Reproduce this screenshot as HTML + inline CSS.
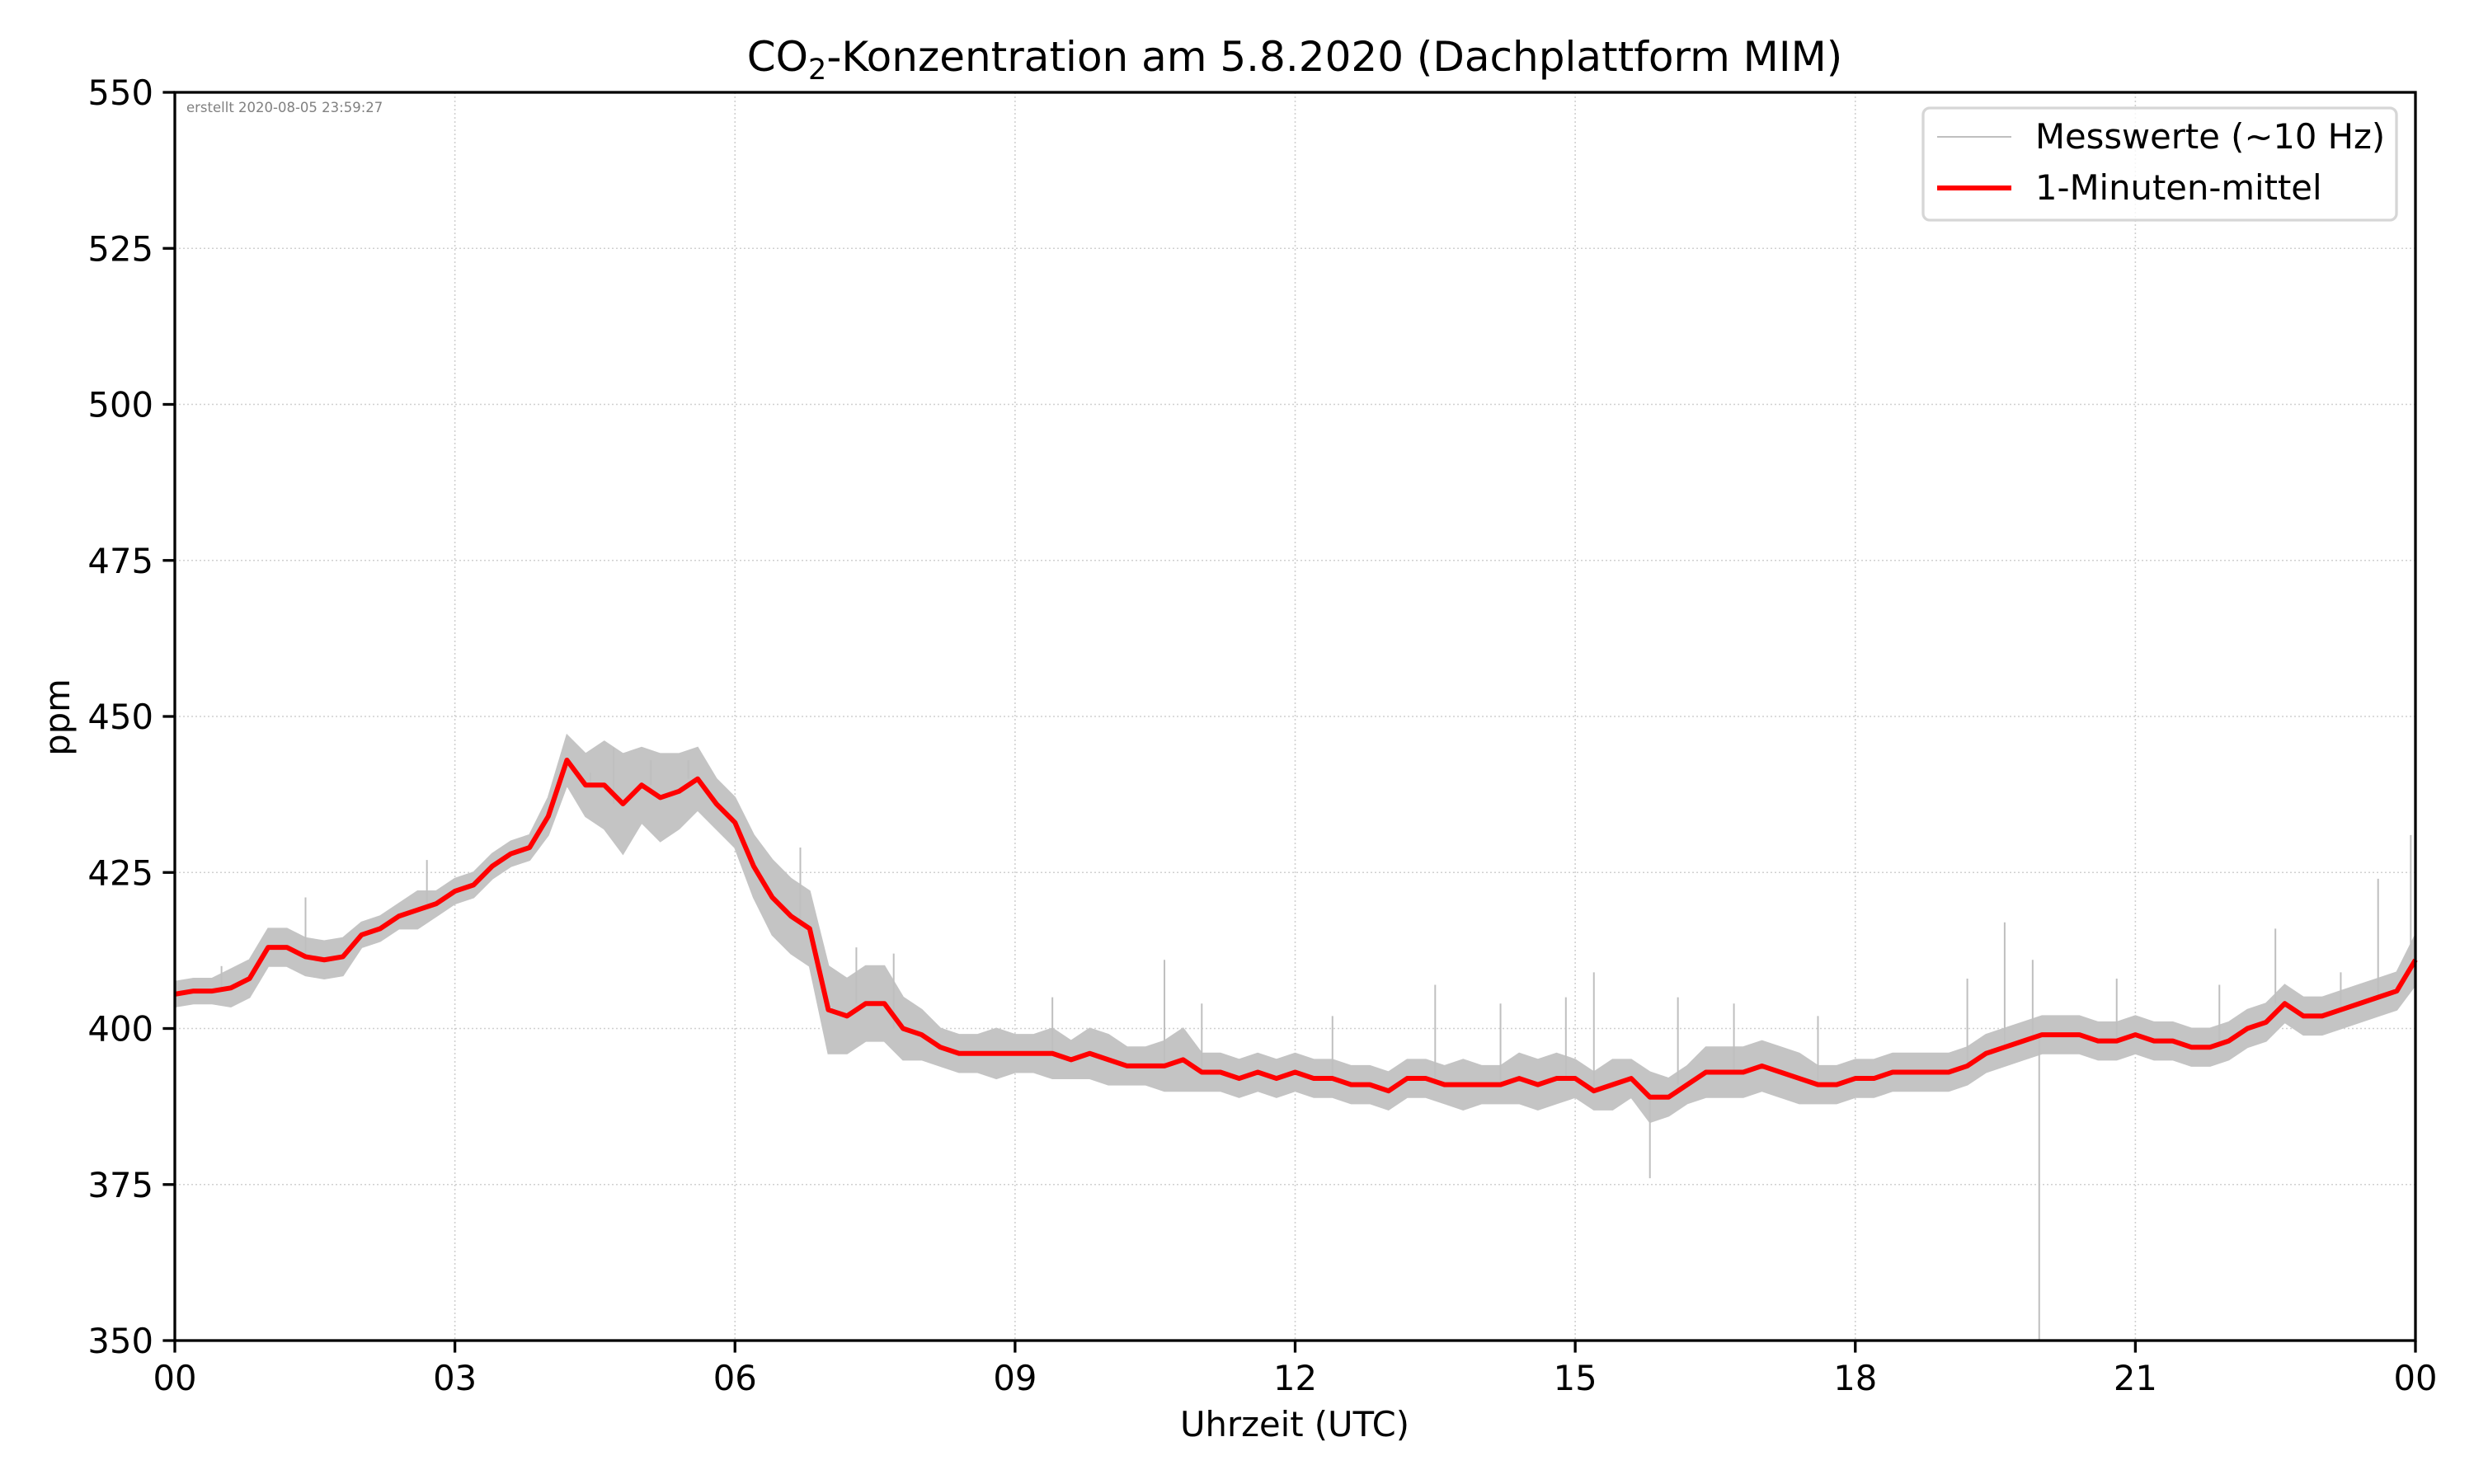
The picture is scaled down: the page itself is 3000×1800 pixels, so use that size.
<!DOCTYPE html>
<html><head><meta charset="utf-8"><style>
html,body{margin:0;padding:0;background:#fff;}
svg{display:block;font-family:"DejaVu Sans","Liberation Sans",sans-serif;}
</style></head><body>
<svg id="chart" width="3000" height="1800" viewBox="0 0 3000 1800" xmlns="http://www.w3.org/2000/svg">
<rect width="3000" height="1800" fill="#fff"/>
<g id="grid"></g>
<g id="series"></g>
<text x="1570" y="86" font-size="50" text-anchor="middle">CO<tspan font-size="35" dy="10">2</tspan><tspan dy="-10">-Konzentration am 5.8.2020 (Dachplattform MIM)</tspan></text>
<text x="226" y="136" font-size="16.5" fill="#808080">erstellt 2020-08-05 23:59:27</text>
<rect x="212" y="112" width="2717" height="1514" fill="none" stroke="#000" stroke-width="3.3"/>
<g id="axes"></g>
<text x="1570" y="1742" font-size="41.7" text-anchor="middle">Uhrzeit (UTC)</text>
<text transform="translate(84,870) rotate(-90)" font-size="41.7" text-anchor="middle">ppm</text>
<g>
<rect x="2332" y="131" width="574" height="136" rx="8" fill="#fff" fill-opacity="0.8" stroke="#d6d6d6" stroke-width="3.3"/>
<line x1="2349" y1="166" x2="2439" y2="166" stroke="#bfbfbf" stroke-width="2"/>
<text x="2468" y="180" font-size="41.7">Messwerte (~10 Hz)</text>
<line x1="2349" y1="228" x2="2439" y2="228" stroke="#ff0000" stroke-width="6"/>
<text x="2468" y="242" font-size="41.7">1-Minuten-mittel</text>
</g>
</svg>
<script>
const hourStep=0.2;
const meanPpm=[
405.5,406,406,406.5,408,413,413,411.5,411,411.5,
415,416,418,419,420,422,423,426,428,429,
434,443,439,439,436,439,437,438,440,436,
433,426,421,418,416,403,402,404,404,400,
399,397,396,396,396,396,396,396,395,396,
395,394,394,394,395,393,393,392,393,392,
393,392,392,391,391,390,392,392,391,391,
391,391,392,391,392,392,390,391,392,389,
389,391,393,393,393,394,393,392,391,391,
392,392,393,393,393,393,394,396,397,398,
399,399,399,398,398,399,398,398,397,397,
398,400,401,404,402,402,403,404,405,406,
411];
const spreadPpm=[
2,2,2,3,3,3,3,3,3,3,
2,2,2,3,2,2,2,2,2,2,
3,4,5,7,8,6,7,6,5,4,
4,5,6,6,6,7,6,6,6,5,
4,3,3,3,4,3,3,4,3,4,
4,3,3,4,5,3,3,3,3,3,
3,3,3,3,3,3,3,3,3,4,
3,3,4,4,4,3,3,4,3,4,
3,3,4,4,4,4,4,4,3,3,
3,3,3,3,3,3,3,3,3,3,
3,3,3,3,3,3,3,3,3,3,
3,3,3,3,3,3,3,3,3,3,
4];
const spikeHours=[0.5,1.4,2.7,4.45,4.7,5.1,5.5,6.7,7.3,7.7,9.4,10.6,11.0,12.4,13.5,14.2,14.9,15.2,15.8,16.1,16.7,17.6,19.2,19.6,19.9,19.97,20.8,21.9,22.5,23.2,23.6,23.95];
const spikePpm=[410,421,427,441,445,443,443,429,413,412,405,411,404,402,407,404,405,409,376,405,404,402,408,417,411,350,408,407,416,409,424,431];
const xTicks=[0,3,6,9,12,15,18,21,24];
const xTickLabels=['00','03','06','09','12','15','18','21','00'];
const yTicks=[350,375,400,425,450,475,500,525,550];

const L=212,R=2929,T=112,B=1626;
const NS='http://www.w3.org/2000/svg';
const X=h=>L+(R-L)*h/24;
const Y=v=>B-(B-T)*(v-350)/200;
function mk(tag,parent,attrs){const e=document.createElementNS(NS,tag);for(const k in attrs)e.setAttribute(k,attrs[k]);parent.appendChild(e);return e;}
const grid=document.getElementById('grid'),axes=document.getElementById('axes'),series=document.getElementById('series');
xTicks.forEach((h,i)=>{
  const g=mk('line',grid,{x1:X(h),x2:X(h),y1:T,y2:B,stroke:'#b0b0b0','stroke-width':1.6,'stroke-dasharray':'2,3','stroke-opacity':0.6});
  
  
  const t=mk('line',axes,{x1:X(h),x2:X(h),y1:B,y2:B+14.6,stroke:'#000','stroke-width':3.3});
  
  
  const l=mk('text',axes,{x:X(h),y:B+60,'font-size':41.7,'text-anchor':'middle'});
  l.textContent=xTickLabels[i];
  
  
});
yTicks.forEach(v=>{
  const g=mk('line',grid,{x1:L,x2:R,y1:Y(v),y2:Y(v),stroke:'#b0b0b0','stroke-width':1.6,'stroke-dasharray':'2,3','stroke-opacity':0.6});
  
  
  const t=mk('line',axes,{x1:L-14.6,x2:L,y1:Y(v),y2:Y(v),stroke:'#000','stroke-width':3.3});
  
  
  const l=mk('text',axes,{x:L-26,y:Y(v)+15,'font-size':41.7,'text-anchor':'end'});
  l.textContent=v;
  
  
});
const hourOf=i=>i*hourStep;
let up=[],dn=[];
meanPpm.forEach((v,i)=>{up.push(X(hourOf(i))+','+Y(v+spreadPpm[i]));dn.unshift(X(hourOf(i))+','+Y(v-spreadPpm[i]));});
const band=mk('polygon',series,{points:up.concat(dn).join(' '),fill:'#c4c4c4',stroke:'#c4c4c4','stroke-width':2});


spikeHours.forEach((h,i)=>{
  const j=Math.min(meanPpm.length-1,Math.round(h/hourStep));
  const s=mk('line',series,{x1:X(h),x2:X(h),y1:Y(meanPpm[j]),y2:Y(spikePpm[i]),stroke:'#bfbfbf','stroke-width':2});
  
  
});
const line=mk('polyline',series,{points:meanPpm.map((v,i)=>X(hourOf(i))+','+Y(v)).join(' '),fill:'none',stroke:'#ff0000','stroke-width':6,'stroke-linejoin':'round'});


</script>
</body></html>
